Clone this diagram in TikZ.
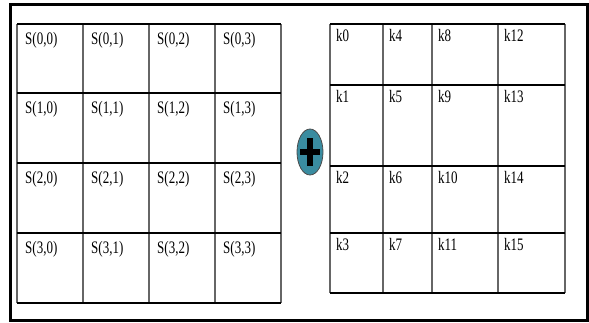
\documentclass[tikz,border=0pt]{standalone}
\usepackage{fontspec}
\setmainfont{Liberation Serif}
\usepackage{graphicx}
\usetikzlibrary{shapes.geometric}
\definecolor{plusteal}{RGB}{58,140,160}
\tikzset{
  hline/.style={line width=2.2pt, black},
  vline/.style={line width=1.8pt, black!60},
  celltext/.style={anchor=north west, inner sep=0pt, font=\fontsize{13}{13}\selectfont},
}
\newcommand{\tall}[1]{\scalebox{1}[1.35]{#1}}
\begin{document}
\begin{tikzpicture}[x=1pt, y=-1pt]
    \useasboundingbox (0,0) rectangle (589,322);
    % --- frame ---
    \draw[line width=3pt] (10,4) rectangle (587,320);

    % --- state S ---
    \foreach \x in {17,83,149,215,281}
        \draw[vline] (\x,24) -- (\x,303);
    \foreach \y in {24,93,163,233,303}
        \draw[hline] (17,\y) -- (281,\y);
    \foreach \c/\x in {0/17,1/83,2/149,3/215}
        \foreach \r/\y in {0/24,1/93,2/163,3/233}
            \node[celltext] (s\r\c) at (\x+8,\y+8) {\tall{S(\r,\c)}};

    % --- xor ---
    \node[ellipse, draw=black!70, line width=0.8pt, fill=plusteal,
          minimum width=26, minimum height=46, inner sep=0pt] (plus) at (310,152) {};
    \draw[line width=6pt] ([yshift=-14]plus.center) -- ([yshift=14]plus.center);
    \draw[line width=6pt] ([xshift=-10]plus.center) -- ([xshift=10]plus.center);

    % --- key k ---
    \foreach \x in {330,383,432,498,565}
        \draw[vline] (\x,24) -- (\x,293);
    \foreach \y in {24,85,166,233,293}
        \draw[hline] (330,\y) -- (565,\y);
    \foreach \c/\x in {0/330,1/383,2/432,3/498}
        \foreach \r/\y in {0/24,1/85,2/166,3/233} {
            \pgfmathtruncatemacro\k{4*\c+\r}
            \node[celltext] (k\k) at (\x+6,\y+5) {\tall{k\k}};
        }
\end{tikzpicture}
\end{document}
